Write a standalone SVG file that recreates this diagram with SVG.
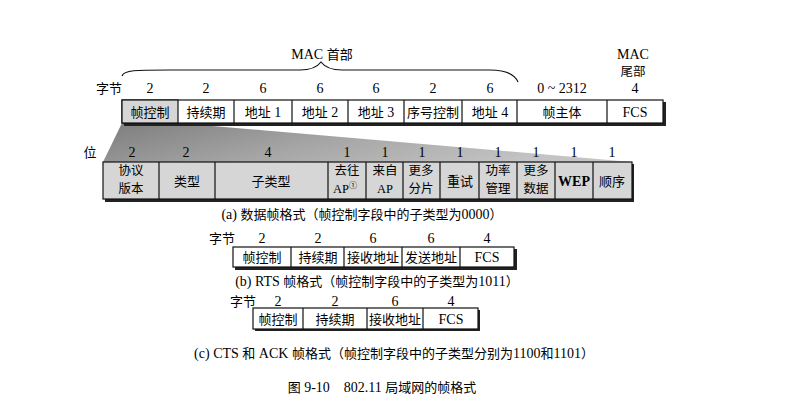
<svg xmlns="http://www.w3.org/2000/svg" width="802" height="413" viewBox="0 0 802 413">
<style>
text{font-family:"Liberation Serif","Noto Sans CJK SC",serif;font-size:14px;fill:#000;text-anchor:middle}
.cn{font-family:"Noto Sans CJK SC","Liberation Sans",sans-serif;font-size:13px}
.sm{font-size:12.5px}
.cell{fill:#fff;stroke:#111;stroke-width:1.2}
.gcell{fill:#d6d6d6;stroke:#111;stroke-width:1.2}
.sh{fill:#222}
.sep{stroke:#111;stroke-width:1.2}
.brace{fill:none;stroke:#111;stroke-width:1.2}
</style>
<defs>
<linearGradient id="shade" x1="0" y1="0" x2="1" y2="0.3">
<stop offset="0" stop-color="#7d7d7d"/>
<stop offset="0.5" stop-color="#a5a5a5"/>
<stop offset="1" stop-color="#c4c4c4"/>
</linearGradient>
</defs>
<rect width="802" height="413" fill="#fff"/>

<g id="mac-header-brace">
<path class="brace" d="M122,76 C124,70 135,70 170,70 L300,70 C312,70 318,66 321,62 C324,66 330,70 342,70 L490,70 C508,70 515,75 518,82"/>
<text x="322" y="59">MAC <tspan class="cn">首部</tspan></text>
</g>
<g id="mac-trailer-label">
<text x="633" y="59">MAC</text>
<text x="633" y="76" class="cn sm">尾部</text>
</g>

<g id="shade-area">
<polygon points="122,123 178,123 632,162 103,162" fill="url(#shade)"/>
</g>

<g id="data-frame">
<text x="109" y="93" class="cn">字节</text>
<text x="150" y="93">2</text>
<text x="206" y="93">2</text>
<text x="263" y="93">6</text>
<text x="320" y="93">6</text>
<text x="376" y="93">6</text>
<text x="433" y="93">2</text>
<text x="490" y="93">6</text>
<text x="562" y="93">0 ~ 2312</text>
<text x="635" y="93">4</text>
<rect class="sh" x="124" y="102" width="542" height="24"/>
<rect class="cell" x="122" y="100" width="541" height="23"/>
<rect class="gcell" x="122" y="100" width="56" height="23"/>
<path class="sep" d="M234,100V123M292,100V123M348,100V123M404,100V123M462,100V123M517,100V123M607,100V123"/>
<text x="150" y="117" class="cn">帧控制</text>
<text x="206" y="117" class="cn">持续期</text>
<text x="263" y="117"><tspan class="cn">地址</tspan> 1</text>
<text x="320" y="117"><tspan class="cn">地址</tspan> 2</text>
<text x="376" y="117"><tspan class="cn">地址</tspan> 3</text>
<text x="433" y="117" class="cn">序号控制</text>
<text x="490" y="117"><tspan class="cn">地址</tspan> 4</text>
<text x="562" y="117" class="cn">帧主体</text>
<text x="635" y="117">FCS</text>
</g>

<g id="frame-control">
<text x="90" y="157" class="cn">位</text>
<text x="132" y="157">2</text>
<text x="186" y="157">2</text>
<text x="268" y="157">4</text>
<text x="347" y="157">1</text>
<text x="385" y="157">1</text>
<text x="422" y="157">1</text>
<text x="460" y="157">1</text>
<text x="498" y="157">1</text>
<text x="536" y="157">1</text>
<text x="574" y="157">1</text>
<text x="612" y="157">1</text>
<rect class="sh" x="105" y="164" width="529" height="38"/>
<rect class="gcell" x="103" y="162" width="529" height="37"/>
<path class="sep" d="M159,162V199M215,162V199M328,162V199M366,162V199M403,162V199M440,162V199M479,162V199M517,162V199M555,162V199M593,162V199"/>
<text x="131" y="175" class="cn sm">协议</text>
<text x="131" y="193" class="cn sm">版本</text>
<text x="187" y="186" class="cn">类型</text>
<text x="271" y="186" class="cn">子类型</text>
<text x="347" y="175" class="cn sm">去往</text>
<text x="345" y="193" class="sm">AP<tspan font-size="8" dy="-5">①</tspan></text>
<text x="385" y="175" class="cn sm">来自</text>
<text x="385" y="193" class="sm">AP</text>
<text x="421" y="175" class="cn sm">更多</text>
<text x="421" y="193" class="cn sm">分片</text>
<text x="460" y="186" class="cn">重试</text>
<text x="498" y="175" class="cn sm">功率</text>
<text x="498" y="193" class="cn sm">管理</text>
<text x="536" y="175" class="cn sm">更多</text>
<text x="536" y="193" class="cn sm">数据</text>
<text x="574" y="186" font-weight="bold">WEP</text>
<text x="612" y="186" class="cn">顺序</text>
</g>
<text x="362" y="219">(a) <tspan class="cn">数据帧格式（帧控制字段中的子类型为</tspan>0000<tspan class="cn">）</tspan></text>

<g id="rts-frame">
<text x="222" y="243" class="cn">字节</text>
<text x="262" y="243">2</text>
<text x="318" y="243">2</text>
<text x="373" y="243">6</text>
<text x="431" y="243">6</text>
<text x="487" y="243">4</text>
<rect class="sh" x="235" y="249" width="282" height="21"/>
<rect class="cell" x="233" y="247" width="281" height="20"/>
<path class="sep" d="M291,247V267M344,247V267M402,247V267M460,247V267"/>
<text x="262" y="262" class="cn">帧控制</text>
<text x="318" y="262" class="cn">持续期</text>
<text x="373" y="262" class="cn">接收地址</text>
<text x="431" y="262" class="cn">发送地址</text>
<text x="487" y="262">FCS</text>
</g>
<text x="377" y="286">(b) RTS <tspan class="cn">帧格式（帧控制字段中的子类型为</tspan>1011<tspan class="cn">）</tspan></text>

<g id="cts-ack-frame">
<text x="243" y="306" class="cn">字节</text>
<text x="278" y="306">2</text>
<text x="335" y="306">2</text>
<text x="395" y="306">6</text>
<text x="451" y="306">4</text>
<rect class="sh" x="255" y="310" width="225" height="21"/>
<rect class="cell" x="253" y="308" width="225" height="21"/>
<path class="sep" d="M303,308V329M367,308V329M423,308V329"/>
<text x="278" y="324" class="cn">帧控制</text>
<text x="335" y="324" class="cn">持续期</text>
<text x="395" y="324" class="cn">接收地址</text>
<text x="451" y="324">FCS</text>
</g>
<text x="394" y="358">(c) CTS <tspan class="cn">和</tspan> ACK <tspan class="cn">帧格式（帧控制字段中的子类型分别为</tspan>1100<tspan class="cn">和</tspan>1101<tspan class="cn">）</tspan></text>

<text x="382" y="392"><tspan class="cn">图</tspan> 9-10&#160;&#160;&#160;&#160;802.11 <tspan class="cn">局域网的帧格式</tspan></text>
</svg>
